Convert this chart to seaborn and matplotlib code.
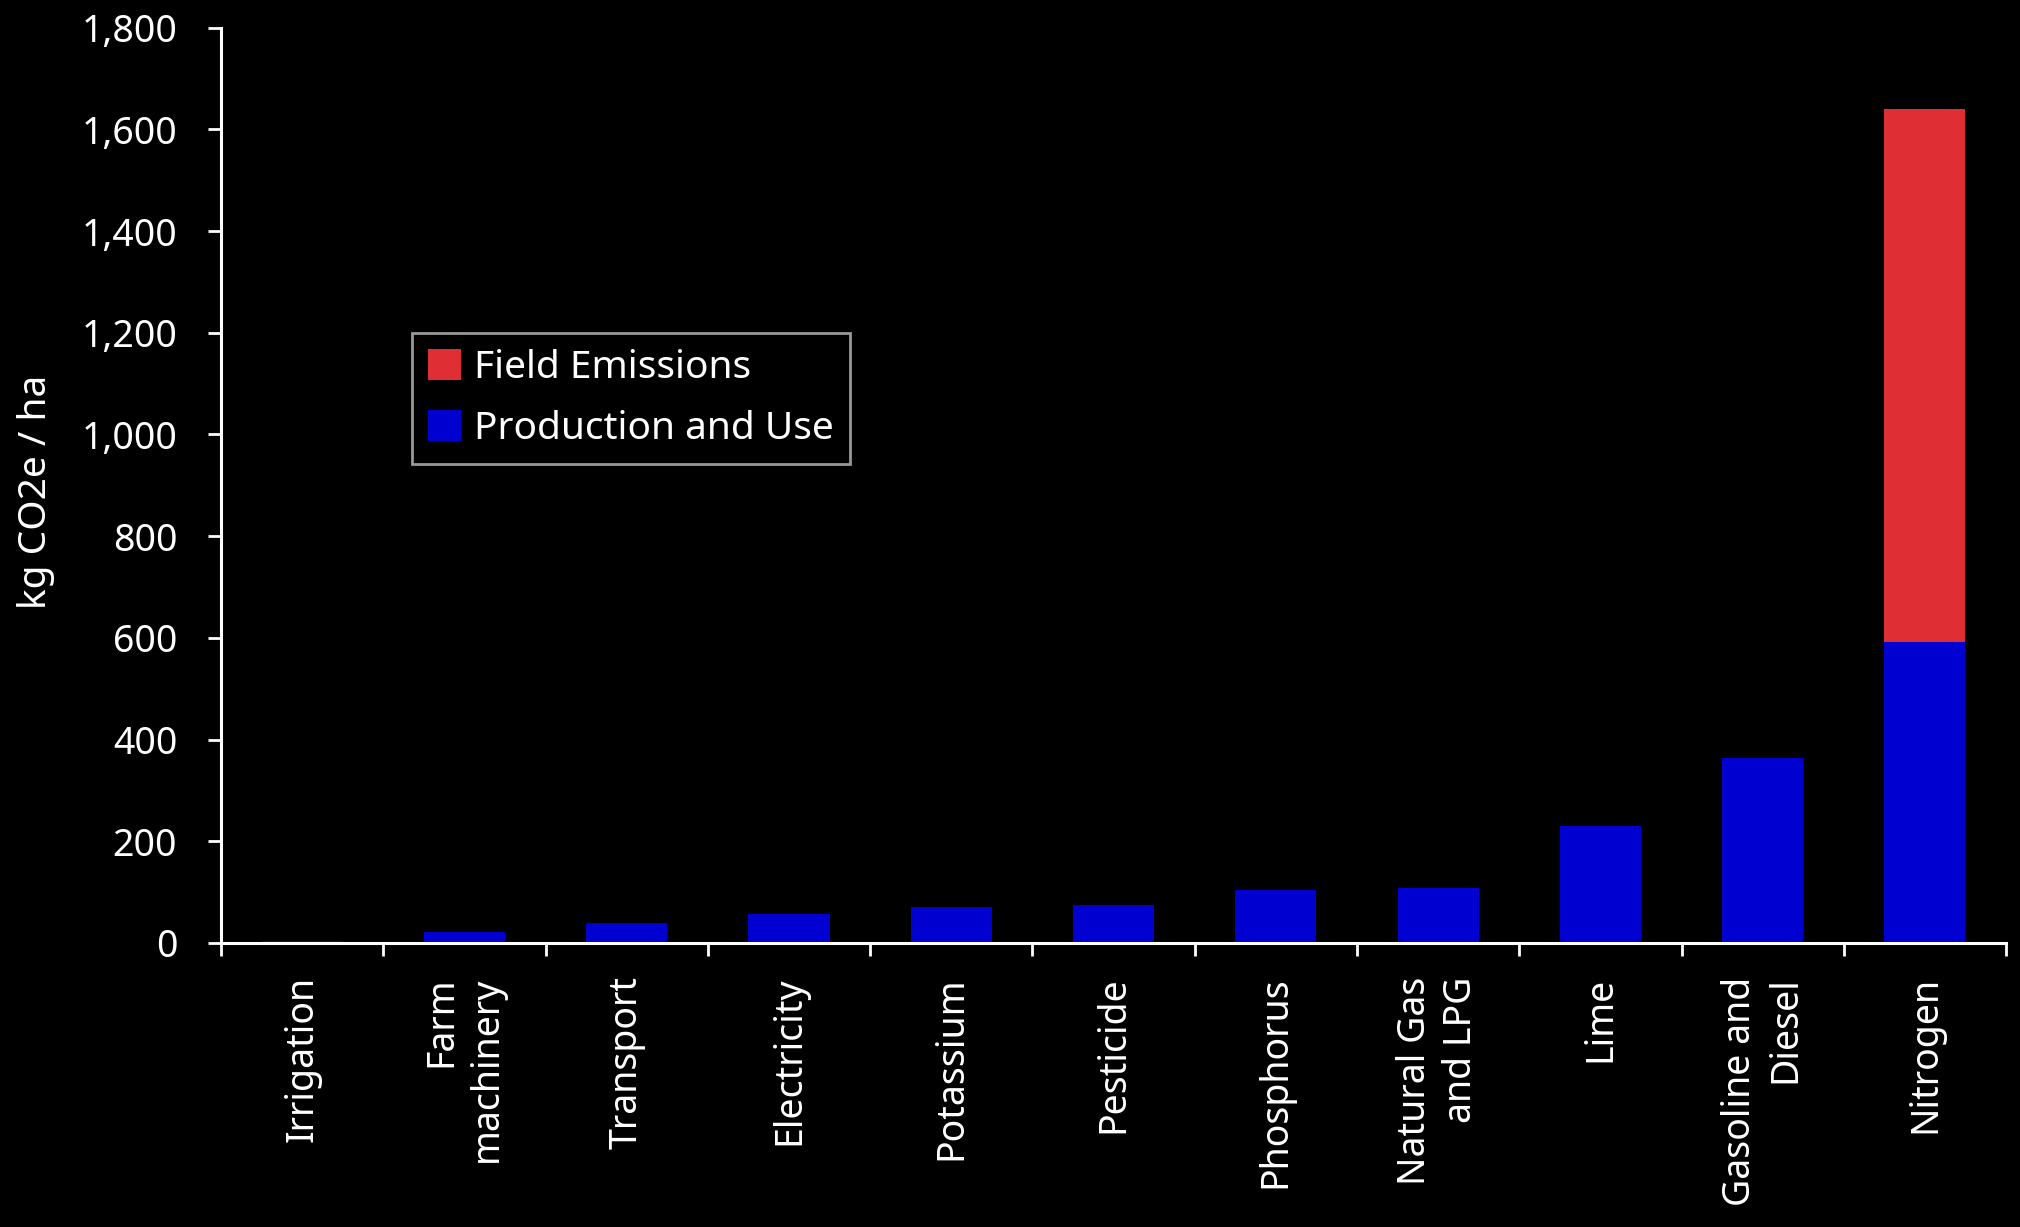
import numpy as np
import pandas as pd
import matplotlib
matplotlib.use("Agg")
import matplotlib.pyplot as plt
from matplotlib.patches import Patch
from matplotlib.ticker import FuncFormatter
import seaborn as sns

categories = ["Irrigation", "Farm\nmachinery", "Transport", "Electricity",
              "Potassium", "Pesticide", "Phosphorus", "Natural Gas\nand LPG",
              "Lime", "Gasoline and\nDiesel", "Nitrogen"]
production_use = [3, 21, 39, 57, 71, 75, 104, 108, 230, 364, 592]
field_emissions = [0, 0, 0, 0, 0, 0, 0, 0, 0, 0, 1049]

red = "#DF2E34"
blue = "#0000D0"

df = pd.DataFrame({"cat": categories,
                   "prod": production_use,
                   "field": field_emissions})
df["total"] = df["prod"] + df["field"]

sns.set_style("ticks")
plt.rcParams["font.family"] = ["Noto Sans", "DejaVu Sans"]
plt.rcParams["font.weight"] = "light"

fig = plt.figure(figsize=(20.2, 12.27), dpi=100, facecolor="black")
ax = fig.add_axes([0.1094, 0.2315, 0.9931 - 0.1094, 0.9774 - 0.2315])
ax.set_facecolor("black")

# stacked: total (red) behind, production (blue) in front
sns.barplot(data=df, x="cat", y="total", color=red, width=0.5,
            saturation=1, ax=ax, zorder=2, edgecolor="none", linewidth=0)
sns.barplot(data=df, x="cat", y="prod", color=blue, width=0.5,
            saturation=1, ax=ax, zorder=3, edgecolor="none", linewidth=0)

ax.set_ylim(0, 1800)
ax.set_xlim(-0.5, len(categories) - 0.5)
ax.set_yticks(np.arange(0, 1801, 200))
ax.yaxis.set_major_formatter(FuncFormatter(lambda v, p: f"{int(v):,}"))

# ticks on category boundaries, labels at centres
ax.set_xticks(np.arange(-0.5, len(categories), 1.0))
ax.set_xticklabels([])
ax.set_xticks(np.arange(len(categories)), minor=True)
ax.set_xticklabels(categories, minor=True, rotation=90, fontsize=27,
                   color="white", va="top", ha="center", multialignment="right",
                   linespacing=1.25)
ax.tick_params(axis="x", which="minor", length=0, pad=24)
ax.tick_params(axis="x", which="major", length=9.5, width=2, color="white",
               direction="out")
ax.tick_params(axis="y", length=9.5, width=2, color="white", direction="out",
               labelsize=27, labelcolor="white", pad=22)

ax.set_xlabel("")
ax.set_ylabel("")
for s in ["top", "right"]:
    ax.spines[s].set_visible(False)
for s in ["left", "bottom"]:
    ax.spines[s].set_color("white")
    ax.spines[s].set_linewidth(2.2)
    ax.spines[s].set_zorder(5)

fig.text(36 / 2020, 1 - 492 / 1227, "kg CO2e / ha", rotation=90,
         ha="center", va="center", color="white", fontsize=28)

handles = [Patch(facecolor=red, edgecolor="none", label="Field Emissions"),
           Patch(facecolor=blue, edgecolor="none", label="Production and Use")]
leg = ax.legend(handles=handles, loc="upper left",
                bbox_to_anchor=(0.107, 0.666), borderaxespad=0,
                fontsize=28, frameon=True, fancybox=False,
                handlelength=0.85, handleheight=0.85, handletextpad=0.35,
                labelspacing=0.6, borderpad=0.4)
leg.get_frame().set_facecolor("black")
leg.get_frame().set_edgecolor("#BFBFBF")
leg.get_frame().set_linewidth(2)
for t in leg.get_texts():
    t.set_color("white")

fig.savefig("out.png", dpi=100, facecolor="black")
